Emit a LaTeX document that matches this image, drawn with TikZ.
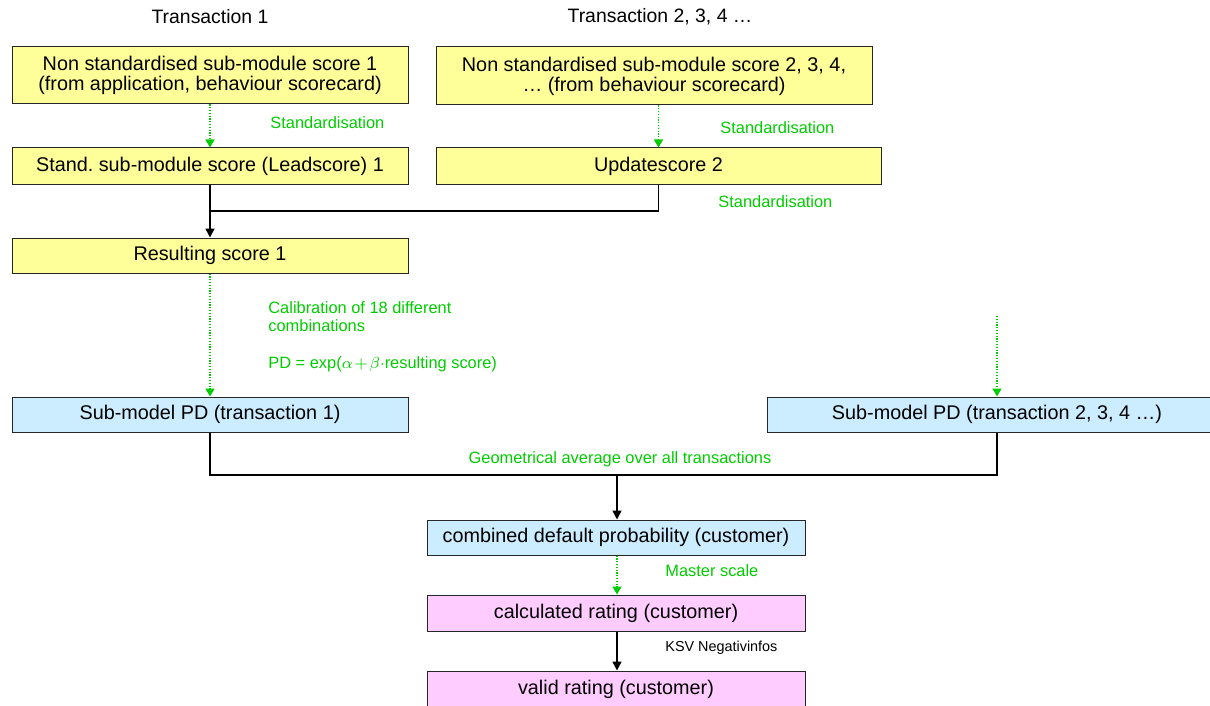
\documentclass[tikz,border=0pt]{standalone}
\usepackage{fontspec}
\setmainfont{Liberation Sans}
\usepackage{tikz}
\usetikzlibrary{arrows.meta,calc,positioning}
\usepackage{xcolor}
\definecolor{Citron}{RGB}{255,255,153}
\definecolor{Glacier}{RGB}{204,236,255}
\definecolor{Orchid}{RGB}{255,204,255}
\definecolor{Leaf}{RGB}{0,204,0}
\frenchspacing

\begin{document}
\begin{tikzpicture}[x=0.5pt,y=-0.5pt,
  box/.style={draw=black!85,line width=0.5pt,inner sep=0pt,align=center,
    font=\fontsize{9.9}{10}\selectfont},
  yellowbox/.style={box,fill=Citron},
  bluebox/.style={box,fill=Glacier},
  pinkbox/.style={box,fill=Orchid},
  flow/.style={line width=0.75pt,-{Triangle[length=4.5pt,width=4.5pt]}},
  calib/.style={Leaf,line width=0.6pt,dash pattern=on 0.6pt off 0.8pt,
    -{Triangle[length=4pt,width=4.5pt]}},
  note/.style={Leaf,inner sep=0pt,font=\fontsize{8.2}{9}\selectfont}]
\useasboundingbox (0,0) rectangle (1210,706);
% column headings
\node[font=\fontsize{9.7}{11}\selectfont] (head1) at (210,17) {Transaction 1};
\node[font=\fontsize{9.7}{11}\selectfont] (head2) at (660,17) {Transaction 2, 3, 4 …};
%
% scores
\node[yellowbox,minimum width=198pt,minimum height=28.5pt] (raw1) at (210,75.5)
  {Non standardised sub-module score 1\\(from application, behaviour scorecard)};
\node[yellowbox,minimum width=218pt,minimum height=29pt] (raw2) at (654,76)
  {Non standardised sub-module score 2, 3, 4,\\… (from behaviour scorecard)};
\node[yellowbox,minimum width=198pt,minimum height=18pt] (lead1) at (210,166)
  {Stand. sub-module score (Leadscore) 1};
\node[yellowbox,minimum width=222.5pt,minimum height=18pt] (upd2) at (658.5,166)
  {Updatescore 2};
\node[yellowbox,minimum width=198pt,minimum height=17.5pt] (res1) at (210,255.5)
  {Resulting score 1};
%
% default probabilities
\node[bluebox,minimum width=198pt,minimum height=17.5pt] (pd1) at (210,414.5)
  {Sub-model PD (transaction 1)};
\node[bluebox,minimum width=230pt,minimum height=17.5pt] (pd2) at (997,414.5)
  {Sub-model PD (transaction 2, 3, 4 …)};
\node[bluebox,minimum width=189pt,minimum height=17.5pt] (comb) at (616,537.5)
  {combined default probability (customer)};
\node[pinkbox,minimum width=189pt,minimum height=18pt] (calc) at (616,613)
  {calculated rating (customer)};
\node[pinkbox,minimum width=189pt,minimum height=18pt] (valid) at (616,689)
  {valid rating (customer)};
%
% connectors
\coordinate (joinA) at (210,211);
\coordinate (joinB) at (617,475);
\coordinate (pdtop) at (997,316);
\draw[calib] (raw1) -- (lead1);
\draw[calib] (raw2.south -| upd2) -- (upd2);
\draw[flow] (lead1) -- (res1);
\draw[line width=0.75pt] (upd2.south) |- (joinA);
\draw[calib] (res1) -- (pd1);
\draw[calib] (pdtop) -- (pd2);
\draw[line width=0.75pt] (pd1.south) |- (pd2.south |- joinB) -- (pd2.south);
\draw[flow] (joinB) -- (comb.north -| joinB);
\draw[calib] (comb.south -| joinB) -- (calc.north -| joinB);
\draw[flow] (calc.south -| joinB) -- (valid.north -| joinB);
%
% labels
\node[note,anchor=west] (std1) at (270,123) {Standardisation};
\node[note,anchor=west] (std2) at (720,128) {Standardisation};
\node[note,anchor=west] (std3) at (718,202) {Standardisation};
\node[note,anchor=north west,align=left] (cal) at (268,301)
  {Calibration of 18 different\\combinations\\[9.5pt]
   PD = exp($\alpha\mskip2mu{+}\mskip2mu\beta{\cdot}$resulting score)};
\node[note] (geo) at (620,459) {Geometrical average over all transactions};
\node[note,anchor=west] (master) at (665,571) {Master scale};
\node[inner sep=0pt,anchor=west,font=\fontsize{7.2}{8}\selectfont] (ksv) at (665,648)
  {KSV Negativinfos};
\end{tikzpicture}
\end{document}
